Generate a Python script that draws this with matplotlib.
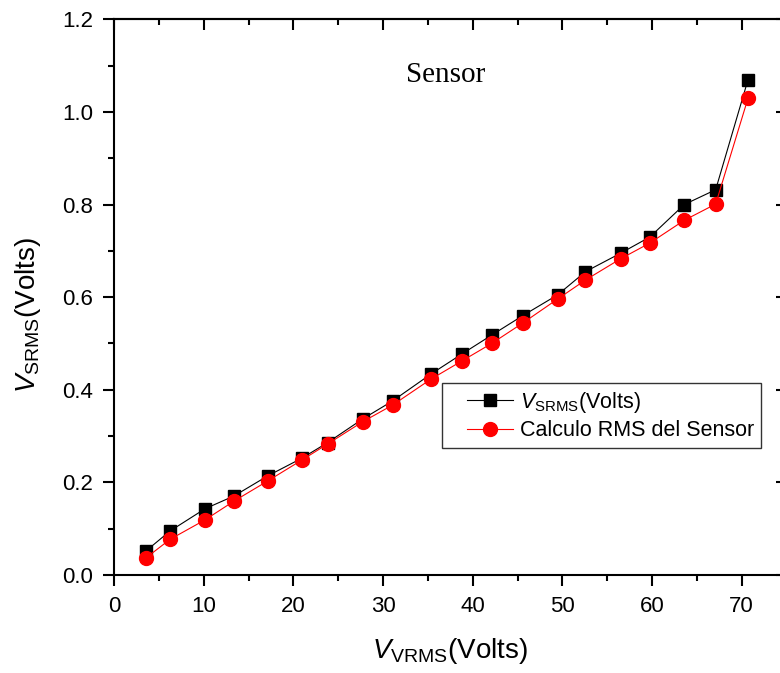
import numpy as np
import matplotlib
matplotlib.use('Agg')
import matplotlib.pyplot as plt
from matplotlib.ticker import MultipleLocator, FormatStrFormatter
from matplotlib.legend_handler import HandlerLine2D

plt.rcParams['font.family'] = ['Liberation Sans', 'DejaVu Sans']
plt.rcParams['mathtext.fontset'] = 'custom'
plt.rcParams['mathtext.rm'] = 'Liberation Sans'
plt.rcParams['mathtext.it'] = 'Liberation Sans:italic'

v_vrms = [3.57, 6.25, 10.15, 13.42, 17.14, 20.93, 23.83, 27.74, 31.08, 35.35,
          38.78, 42.12, 45.58, 49.48, 52.58, 56.51, 59.77, 63.60, 67.10, 70.70]
v_srms = [0.052, 0.095, 0.143, 0.171, 0.214, 0.252, 0.286, 0.337, 0.376, 0.434,
          0.477, 0.518, 0.560, 0.605, 0.655, 0.695, 0.730, 0.800, 0.832, 1.069]
rms_calc = [0.037, 0.077, 0.119, 0.160, 0.203, 0.248, 0.283, 0.331, 0.367, 0.423,
            0.462, 0.500, 0.544, 0.596, 0.637, 0.683, 0.717, 0.766, 0.801, 1.029]

W, H = 780, 673
fig = plt.figure(figsize=(W / 100, H / 100), dpi=100)
ax = fig.add_axes([114 / W, (H - 575) / H, (786.5 - 114) / W, (575 - 19.3) / H])

ax.plot(v_vrms, v_srms, color='black', lw=0.8, marker='s', ms=8.4,
        label=r'$\mathit{V}_{\mathrm{SRMS}}$(Volts)')
ax.plot(v_vrms, rms_calc, color='red', lw=0.8, marker='o', ms=10,
        label='Calculo RMS del Sensor')

ax.set_xlim(0, 75)
ax.set_ylim(0, 1.2)
ax.xaxis.set_major_locator(MultipleLocator(10))
ax.xaxis.set_minor_locator(MultipleLocator(5))
ax.yaxis.set_major_locator(MultipleLocator(0.2))
ax.yaxis.set_minor_locator(MultipleLocator(0.1))
ax.yaxis.set_major_formatter(FormatStrFormatter('%.1f'))

for s in ax.spines.values():
    s.set_linewidth(1.5)

ax.tick_params(which='both', direction='out', width=1.5, labelsize=16,
               top=False, right=False, pad=7)
ax.tick_params(which='major', length=8)
ax.tick_params(which='minor', length=4.5)

# inward ticks on top and right, as in the original plot
ax_top = ax.secondary_xaxis('top')
ax_top.xaxis.set_major_locator(MultipleLocator(10))
ax_top.xaxis.set_minor_locator(MultipleLocator(5))
ax_top.tick_params(which='both', direction='in', width=1.5, labeltop=False)
ax_top.tick_params(which='major', length=8)
ax_top.tick_params(which='minor', length=4.5)
ax_top.spines['top'].set_linewidth(1.5)
ax_right = ax.secondary_yaxis('right')
ax_right.yaxis.set_major_locator(MultipleLocator(0.2))
ax_right.yaxis.set_minor_locator(MultipleLocator(0.1))
ax_right.tick_params(which='both', direction='in', width=1.5, labelright=False)
ax_right.tick_params(which='major', length=8)
ax_right.tick_params(which='minor', length=4.5)

ax.set_xlabel(r'$\mathit{V}_{\mathrm{VRMS}}$(Volts)', fontsize=20, labelpad=14)
ax.set_ylabel(r'$\mathit{V}_{\mathrm{SRMS}}$(Volts)', fontsize=20)
ax.yaxis.set_label_coords(-0.106, 0.468)

ax.text(446 / W, 1 - 75 / H, 'Sensor', transform=fig.transFigure,
        fontsize=21, family='Liberation Serif', ha='center', va='center')

hmap = {l: HandlerLine2D(xpad=0.86) for l in ax.get_lines()}
leg = ax.legend(loc='upper left', bbox_to_anchor=(441.7 / W, 1 - 383.3 / H),
                bbox_transform=fig.transFigure, fontsize=15.5, frameon=True,
                fancybox=False, borderaxespad=0, handlelength=3.0,
                handletextpad=0.33, labelspacing=0.25, borderpad=0.3,
                handler_map=hmap)
leg.get_frame().set_edgecolor('black')
leg.get_frame().set_linewidth(1.0)

fig.savefig('out.png', dpi=100)
